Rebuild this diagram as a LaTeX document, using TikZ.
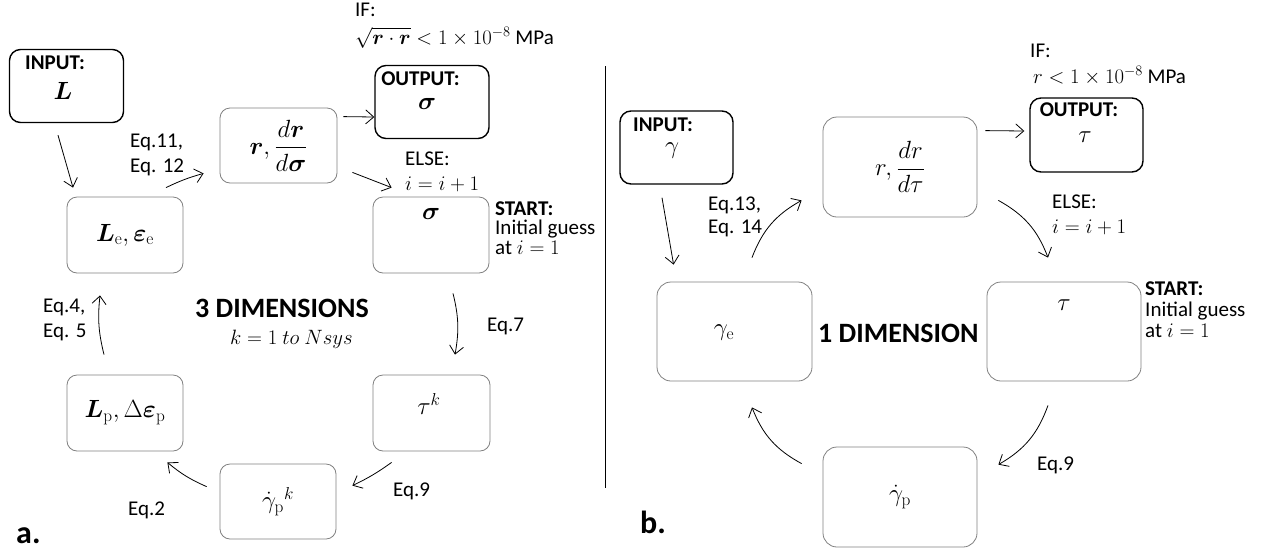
\documentclass[tikz,border=0pt]{standalone}
\usepackage{amsmath,amssymb}
\usepackage[no-math]{fontspec}
\setmainfont{Carlito}
\usetikzlibrary{arrows.meta,calc}
\begin{document}
\begin{tikzpicture}[x=1pt,y=-1pt,
  proc/.style={draw=black!50, line width=0.8pt, rounded corners=10pt, inner sep=0pt, font=\fontsize{27}{30}\selectfont},
  bigproc/.style={proc, minimum width=154pt, minimum height=99pt, rounded corners=14pt},
  smproc/.style={proc, minimum width=116pt, minimum height=76pt},
  iobox/.style={draw=black, line width=1.4pt, rounded corners=11pt, inner sep=0pt, minimum width=114pt, minimum height=73pt},
  iolbl/.style={inner sep=0pt, font=\fontsize{21}{25}\selectfont\bfseries},
  iomath/.style={inner sep=0pt, font=\fontsize{24}{28}\selectfont},
  txt/.style={inner sep=0pt, anchor=base west, font=\fontsize{21}{25}\selectfont},
  btxt/.style={txt, font=\fontsize{21}{25}\selectfont\bfseries},
  head/.style={inner sep=0pt, anchor=base west, font=\fontsize{28}{32}\selectfont\bfseries},
  panel/.style={inner sep=0pt, anchor=base west, font=\fontsize{32}{36}\selectfont\bfseries},
  arr/.style={-{Straight Barb[length=8pt,width=14pt]}, line width=0.8pt},
  divider/.style={line width=0.9pt}
]
\useasboundingbox (0,0) rectangle (1270,550);

% ---------------- Left panel (3D) ----------------
\node[iobox] (inL) at (66.5,86) {};
\node[iolbl] (inLt) at (55,63) {INPUT:};
\node[iomath] (inLm) at (63,91) {$\boldsymbol{L}$};

\node[smproc] (Le) at (125,235) {$\boldsymbol{L}_{\mathrm{e}}, \boldsymbol{\varepsilon}_{\mathrm{e}}$};
\node[smproc, minimum width=117pt, minimum height=75pt, font=\fontsize{25}{28}\selectfont] (rL) at (278.5,145.5) {$\boldsymbol{r}, \dfrac{d\boldsymbol{r}}{d\boldsymbol{\sigma}}$};

\node[iobox] (outS) at (432,102) {};
\node[iolbl] (outSt) at (420.5,78.5) {OUTPUT:};
\node[iomath] (outSm) at (427,104) {$\boldsymbol{\sigma}$};

\node[smproc] (sig) at (431,235) {};
\node[proc, draw=none] (sigm) at (431,214) {$\boldsymbol{\sigma}$};
\node[smproc, minimum width=117pt] (tauk) at (431.5,413) {};
\node[proc, draw=none] (taukm) at (429,404) {$\tau^{k}$};
\node[smproc, minimum height=75pt] (gpk) at (278,501.5) {$\dot{\gamma}_{\mathrm{p}}{}^{k}$};
\node[smproc] (Lp) at (125,413) {$\boldsymbol{L}_{\mathrm{p}}, \Delta\boldsymbol{\varepsilon}_{\mathrm{p}}$};

\node[txt] (ifL) at (355,16) {IF:};
\node[txt] (condL) at (355,44) {$\sqrt{\boldsymbol{r}\cdot\boldsymbol{r}} < 1\times 10^{-8}$ MPa};
\node[txt] (elseL) at (405,165) {ELSE:};
\node[txt] (incL) at (405,190) {$i = i + 1$};
\node[btxt] (startL) at (495,215) {START:};
\node[txt] (guessL) at (495,234) {Initial guess};
\node[txt] (atL) at (495,254) {at $i = 1$};

\node[txt] (eq11) at (130,147) {Eq.11,};
\node[txt] (eq12) at (130,172) {Eq. 12};
\node[txt] (eq4) at (43,312) {Eq.4,};
\node[txt] (eq5) at (43,337) {Eq. 5};
\node[txt] (eq2) at (128,515) {Eq.2};
\node[txt] (eq7) at (487,331) {Eq.7};
\node[txt] (eq9L) at (393,496) {Eq.9};

\node[head] (dim3) at (195,317) {3 DIMENSIONS};
\node[txt, font=\fontsize{22}{26}\selectfont] (kN) at (230,344) {$k = 1\ to\ Nsys$};
\node[panel] (pa) at (16,543) {a.};

\draw[arr] ($(inL.south)+(-8.5,12)$) -- ($(Le.north)+(-52,-9)$);
\draw[arr] ($(Le.north)+(41,-9)$) to[bend left=5] ($(rL.south west)+(-16,-10)$);
\draw[arr] ($(rL.north east)+(6,9)$) -- ($(outS.west)+(0,15)$);
\draw[arr] ($(rL.south east)+(15,-11)$) -- ($(sig.north west)+(19,-9)$);
\draw[arr] ($(sig.south)+(22,20)$) to[bend left=12] ($(tauk.north)+(23.5,-20)$);
\draw[arr] ($(tauk.south west)+(19,11)$) to[bend left=5] ($(gpk.north east)+(16,22)$);
\draw[arr] ($(gpk.north west)+(-13,23)$) to[bend left=8] ($(Lp.south east)+(-16,11)$);
\draw[arr] ($(Lp.north)+(-21,-20)$) to[bend left=10] ($(Le.south)+(-25,22)$);

% divider
\coordinate (dtop) at (605,66);
\coordinate (dbot) at (605,488);
\draw[divider] (dtop) -- (dbot);

% ---------------- Right panel (1D) ----------------
\node[iobox, minimum width=113pt] (inG) at (676.5,147.5) {};
\node[iolbl] (inGt) at (663,124.5) {INPUT:};
\node[iomath] (inGm) at (672,151) {$\gamma$};

\node[bigproc, minimum height=100pt, font=\fontsize{24}{28}\selectfont] (rR) at (900,167) {$r, \dfrac{dr}{d\tau}$};

\node[iobox, minimum width=113pt, minimum height=74pt] (outT) at (1086.5,135) {};
\node[iolbl] (outTt) at (1079,110) {OUTPUT:};
\node[iomath] (outTm) at (1085,137) {$\tau$};

\node[bigproc, minimum width=155pt] (ge) at (734.5,331.5) {};
\node[proc, draw=none] (gem) at (724,333) {$\gamma_{\mathrm{e}}$};
\node[bigproc] (tau) at (1064,331.5) {};
\node[proc, draw=none] (taum) at (1064,305) {$\tau$};
\node[bigproc, minimum height=100pt] (gp) at (900,497) {$\dot{\gamma}_{\mathrm{p}}$};

\node[txt] (ifR) at (1030,57) {IF:};
\node[txt] (condR) at (1033,83) {$r < 1\times 10^{-8}$ MPa};
\node[txt] (elseR) at (1052,208) {ELSE:};
\node[txt] (incR) at (1052,233) {$i = i + 1$};
\node[btxt] (startR) at (1145,295) {START:};
\node[txt] (guessR) at (1145,316) {Initial guess};
\node[txt] (atR) at (1145,337) {at $i = 1$};

\node[txt] (eq13) at (708,210) {Eq.13,};
\node[txt] (eq14) at (708,233) {Eq. 14};
\node[txt] (eq9R) at (1037,470) {Eq.9};

\node[head] (dim1) at (818,342) {1 DIMENSION};
\node[panel] (pb) at (640,533) {b.};

\draw[arr] ($(inG.south)+(-14.5,13)$) -- ($(ge.north west)+(17,-17)$);
\draw[arr] ($(ge.north)+(17.5,-24)$) to[bend left=20] ($(rR.south west)+(-21,-17)$);
\draw[arr] ($(rR.north east)+(8,14)$) -- ($(outT.west)+(-5,-4)$);
\draw[arr] ($(rR.south east)+(21,-17)$) to[bend left=20] ($(tau.north)+(-16,-24)$);
\draw[arr] ($(tau.south)+(-16,24)$) to[bend left=20] ($(gp.north east)+(21,18)$);
\draw[arr] ($(gp.north west)+(-21,17)$) to[bend left=20] ($(ge.south)+(17.5,26)$);
\end{tikzpicture}
\end{document}
